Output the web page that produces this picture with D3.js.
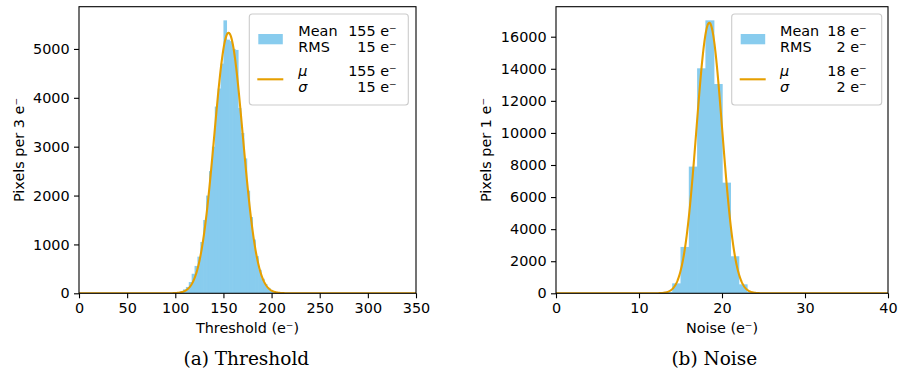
<!DOCTYPE html>
<html>
<head>
<meta charset="utf-8">
<script src="https://cdn.jsdelivr.net/npm/d3@7"></script>
<style>
  body { margin: 0; background: #fff; }
  svg { display: block; }
  text { font-family: "DejaVu Sans", sans-serif; fill: #000; }
</style>
</head>
<body>
<svg id="fig" width="898" height="371"></svg>
<script>
// ---- Threshold distribution (3 e- bins, counts from the first non-empty bin) ----
const thrBinWidth = 3;
const thrBinStart = 99;
const thrCounts = [10, 22, 45, 80, 130, 230, 400, 560, 750, 1050,
                   1500, 2000, 2500, 3000, 3820, 4190, 4700, 5585, 5190, 5160,
                   5000, 4980, 3790, 3280, 2760, 2100, 1560, 1100, 760, 480,
                   300, 190, 110, 65, 35, 18, 8];
const thrMean = 155, thrRms = 15;                 // sample statistics
const thrMu = 155.3, thrSigma = 14.8, thrPeak = 5330; // Gaussian fit
const thrXTicks = [0, 50, 100, 150, 200, 250, 300, 350];
const thrYTicks = [0, 1000, 2000, 3000, 4000, 5000];

// ---- Noise distribution (1 e- bins) ----
const noiseBinWidth = 1;
const noiseBinStart = 12;
const noiseCounts = [15, 90, 620, 2890, 7900, 14030, 17020, 13050, 6900, 2310, 560, 80, 10];
const noiseMean = 18, noiseRms = 2;
const noiseMu = 18.47, noiseSigma = 1.55, noisePeak = 16870;
const noiseXTicks = [0, 10, 20, 30, 40];
const noiseYTicks = [0, 2000, 4000, 6000, 8000, 10000, 12000, 14000, 16000];

const BAR = "#88CCEE", FIT = "#E69F00";
const FS = 14.4;
const svg = d3.select("#fig");

function drawPanel(cfg) {
  const g = svg.append("g");
  const bins = cfg.counts.map((c, i) => ({
    x0: cfg.binStart + i * cfg.binWidth,
    x1: cfg.binStart + (i + 1) * cfg.binWidth,
    n: c
  }));
  const gauss = v => cfg.peak * Math.exp(-((v - cfg.mu) ** 2) / (2 * cfg.sigma ** 2));
  const yMax = 1.05 * Math.max(d3.max(cfg.counts), cfg.peak);

  const x = d3.scaleLinear().domain(cfg.xDomain).range([cfg.left, cfg.right]);
  const y = d3.scaleLinear().domain([0, yMax]).range([cfg.bottom, cfg.top]);

  const clipId = "clip" + cfg.id;
  g.append("clipPath").attr("id", clipId).append("rect")
    .attr("x", cfg.left).attr("y", cfg.top)
    .attr("width", cfg.right - cfg.left).attr("height", cfg.bottom - cfg.top);

  const plot = g.append("g").attr("clip-path", `url(#${clipId})`);

  // histogram bars (slight overlap so neighbouring bins read as one filled shape)
  plot.append("g").selectAll("rect").data(bins).join("rect")
    .attr("x", d => x(d.x0))
    .attr("width", d => x(d.x1) - x(d.x0) + 0.7)
    .attr("y", d => y(d.n))
    .attr("height", d => y(0) - y(d.n))
    .attr("fill", BAR);

  // fitted Gaussian
  const xs = d3.range(0, 801).map(i => cfg.xDomain[0] + (cfg.xDomain[1] - cfg.xDomain[0]) * i / 800);
  plot.append("path")
    .datum(xs)
    .attr("fill", "none")
    .attr("stroke", FIT)
    .attr("stroke-width", 2.1)
    .attr("stroke-linejoin", "round")
    .attr("d", d3.line().x(v => x(v)).y(v => y(gauss(v))));

  // axes
  const xa = g.append("g").attr("transform", `translate(0,${cfg.bottom})`)
    .call(d3.axisBottom(x).tickValues(cfg.xTicks).tickFormat(d3.format("d"))
      .tickSize(5).tickPadding(4.6).tickSizeOuter(0));
  const ya = g.append("g").attr("transform", `translate(${cfg.left},0)`)
    .call(d3.axisLeft(y).tickValues(cfg.yTicks).tickFormat(d3.format("d"))
      .tickSize(5).tickPadding(4.4).tickSizeOuter(0));
  [xa, ya].forEach(a => {
    a.select(".domain").remove();
    a.selectAll("line").attr("stroke", "#000").attr("stroke-width", 1.1);
    a.selectAll("text").attr("font-size", FS).attr("font-family", "DejaVu Sans").attr("fill", "#000");
  });

  // frame
  g.append("rect")
    .attr("x", cfg.left).attr("y", cfg.top)
    .attr("width", cfg.right - cfg.left).attr("height", cfg.bottom - cfg.top)
    .attr("fill", "none").attr("stroke", "#000").attr("stroke-width", 1.1);

  // axis labels
  g.append("text")
    .attr("x", (cfg.left + cfg.right) / 2).attr("y", 333)
    .attr("text-anchor", "middle").attr("font-size", FS)
    .text(cfg.xLabel);
  g.append("text")
    .attr("transform", `translate(${cfg.yLabelX},${(cfg.top + cfg.bottom) / 2}) rotate(-90)`)
    .attr("text-anchor", "middle").attr("font-size", FS)
    .text(cfg.yLabel);

  // legend
  const L = cfg.legend;
  const lg = g.append("g");
  lg.append("rect")
    .attr("x", L.x0).attr("y", 14).attr("width", L.x1 - L.x0).attr("height", 91)
    .attr("rx", 3).attr("ry", 3)
    .attr("fill", "#fff").attr("fill-opacity", 0.8)
    .attr("stroke", "#cccccc").attr("stroke-width", 1.1);
  lg.append("rect")
    .attr("x", L.x0 + 9).attr("y", 34).attr("width", 24.5).attr("height", 10.3)
    .attr("fill", BAR);
  lg.append("line")
    .attr("x1", L.x0 + 8).attr("x2", L.x0 + 34).attr("y1", 79.3).attr("y2", 79.3)
    .attr("stroke", FIT).attr("stroke-width", 2.1);

  const rows = [
    { name: "Mean", italic: false, val: cfg.mean, yb: 35.5 },
    { name: "RMS", italic: false, val: cfg.rms, yb: 51.5 },
    { name: "\u03bc", italic: true, val: Math.round(cfg.mu), yb: 75.5 },
    { name: "\u03c3", italic: true, val: Math.round(cfg.sigma), yb: 91.5 }
  ];
  rows.forEach(r => {
    lg.append("text").attr("x", L.textX).attr("y", r.yb)
      .attr("font-size", FS).attr("font-style", r.italic ? "italic" : "normal")
      .text(r.name);
    lg.append("text").attr("x", L.valX).attr("y", r.yb)
      .attr("font-size", FS).attr("text-anchor", "end")
      .text(`${r.val} e\u207b`);
  });

  // sub-caption
  g.append("text")
    .attr("x", cfg.captionX).attr("y", 364.5)
    .attr("text-anchor", "middle")
    .attr("font-size", 18.5)
    .style("font-family", "'DejaVu Serif', serif")
    .text(cfg.caption);
}

drawPanel({
  id: "a", counts: thrCounts, binStart: thrBinStart, binWidth: thrBinWidth,
  mu: thrMu, sigma: thrSigma, peak: thrPeak, mean: thrMean, rms: thrRms,
  xDomain: [0, 350], xTicks: thrXTicks, yTicks: thrYTicks,
  left: 79, right: 416, top: 6.7, bottom: 293.3,
  xLabel: "Threshold (e\u207b)", yLabel: "Pixels per 3 e\u207b", yLabelX: 23.5,
  legend: { x0: 249.3, x1: 408.3, textX: 298.3, valX: 396.7 },
  caption: "(a) Threshold", captionX: 246.3
});

drawPanel({
  id: "b", counts: noiseCounts, binStart: noiseBinStart, binWidth: noiseBinWidth,
  mu: noiseMu, sigma: noiseSigma, peak: noisePeak, mean: noiseMean, rms: noiseRms,
  xDomain: [0, 40], xTicks: noiseXTicks, yTicks: noiseYTicks,
  left: 556, right: 888, top: 6.7, bottom: 293.3,
  xLabel: "Noise (e\u207b)", yLabel: "Pixels per 1 e\u207b", yLabelX: 490.5,
  legend: { x0: 731.7, x1: 881.7, textX: 780, valX: 866.7 },
  caption: "(b) Noise", captionX: 714.3
});
</script>
</body>
</html>
